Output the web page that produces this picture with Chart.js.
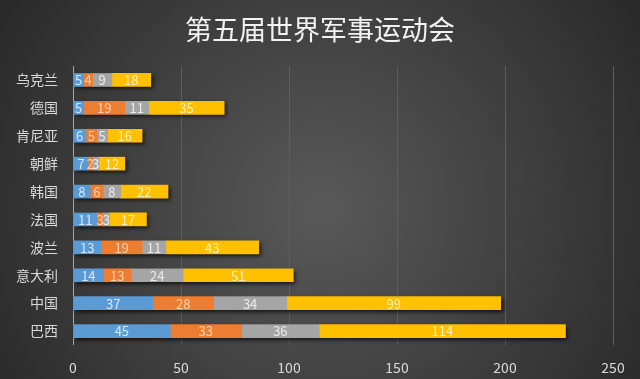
<!DOCTYPE html>
<html><head><meta charset="utf-8">
<script src="https://cdn.jsdelivr.net/npm/chart.js@4/dist/chart.umd.min.js"></script>
<style>html,body{margin:0;padding:0;background:#333;}#wrap{width:640px;height:379px;}</style>
</head><body><div id="wrap"><canvas id="c" width="640" height="379"></canvas></div>
<script>
const categories = ['乌克兰','德国','肯尼亚','朝鲜','韩国','法国','波兰','意大利','中国','巴西'];
const seriesA = [5,5,6,7,8,11,13,14,37,45];
const seriesB = [4,19,5,2,6,3,19,13,28,33];
const seriesC = [9,11,5,3,8,3,11,24,34,36];
const seriesD = [18,35,16,12,22,17,43,51,99,114];
const xTicks = [0,50,100,150,200,250];
const titleText = '第五届世界军事运动会';

const FONT = '"Noto Sans CJK SC", "Noto Sans", sans-serif';
const barColors = ['#5b9bd5','#ed7d31','#a5a5a5','#ffc000'];
const labelColors = ['#d6e6f6','#fbd3b6','#ececec','#fff0c0'];

const bgPlugin = {
  id:'bg',
  beforeDraw(chart){
    const {ctx,width,height} = chart;
    ctx.save();
    const g = ctx.createRadialGradient(width*0.5,height*0.55,10,width*0.5,height*0.55,width*0.62);
    g.addColorStop(0,'#585858');
    g.addColorStop(1,'#272727');
    ctx.fillStyle = g;
    ctx.fillRect(0,0,width,height);
    ctx.fillStyle = '#f2f2f2';
    ctx.font = '27px ' + FONT;
    ctx.textAlign = 'center';
    ctx.textBaseline = 'middle';
    ctx.fillText(titleText, width/2, 30);
    ctx.restore();
  }
};

const shadowPlugin = {
  id:'shadow',
  beforeDatasetsDraw(chart){
    const {ctx} = chart;
    const first = chart.getDatasetMeta(0).data;
    const last = chart.getDatasetMeta(chart.data.datasets.length-1).data;
    ctx.save();
    ctx.shadowColor = 'rgba(0,0,0,0.75)';
    ctx.shadowBlur = 4;
    ctx.shadowOffsetX = 2;
    ctx.shadowOffsetY = 2;
    ctx.fillStyle = '#222';
    first.forEach((b,i)=>{
      const l = last[i];
      const h = b.height;
      ctx.fillRect(b.base, b.y - h/2, l.x - b.base, h);
    });
    ctx.restore();
  }
};

const labelPlugin = {
  id:'labels',
  afterDatasetsDraw(chart){
    const {ctx} = chart;
    ctx.save();
    ctx.font = '13px ' + FONT;
    ctx.textAlign = 'center';
    ctx.textBaseline = 'middle';
    chart.data.datasets.forEach((ds,di)=>{
      chart.getDatasetMeta(di).data.forEach((b,i)=>{
        ctx.fillStyle = labelColors[di];
        ctx.fillText(String(ds.data[i]), (b.x + b.base)/2, b.y + 0.5);
      });
    });
    ctx.restore();
  }
};

const sets = [seriesA,seriesB,seriesC,seriesD].map((d,i)=>({
  label:'S'+(i+1), data:d, backgroundColor:barColors[i], borderWidth:0,
  barThickness:13
}));

new Chart(document.getElementById('c'),{
  type:'bar',
  data:{labels:categories, datasets:sets},
  options:{
    indexAxis:'y',
    responsive:false,
    animation:false,
    devicePixelRatio:1,
    layout:{padding:{left:0,right:27,top:66,bottom:0}},
    plugins:{
      legend:{display:false},
      tooltip:{enabled:false},
      title:{display:false}
    },
    scales:{
      x:{stacked:true,min:0,max:250,
        afterBuildTicks(s){ s.ticks = xTicks.map(v=>({value:v})); },
        afterFit(s){ s.height = 34; },
        grid:{color(ctx){return ctx.tick && ctx.tick.value===0 ? '#a6a6a6' : '#5e5e5e';},lineWidth:1,drawTicks:false},
        border:{display:false},
        ticks:{color:'#d9d9d9',font:{family:FONT,size:14},padding:14}
      },
      y:{stacked:true,
        afterFit(s){ s.width = 73; },
        grid:{display:false,drawTicks:false},
        border:{display:false},
        ticks:{color:'#d9d9d9',font:{family:FONT,size:14},padding:15}
      }
    }
  },
  plugins:[bgPlugin,shadowPlugin,labelPlugin]
});
</script></body></html>
